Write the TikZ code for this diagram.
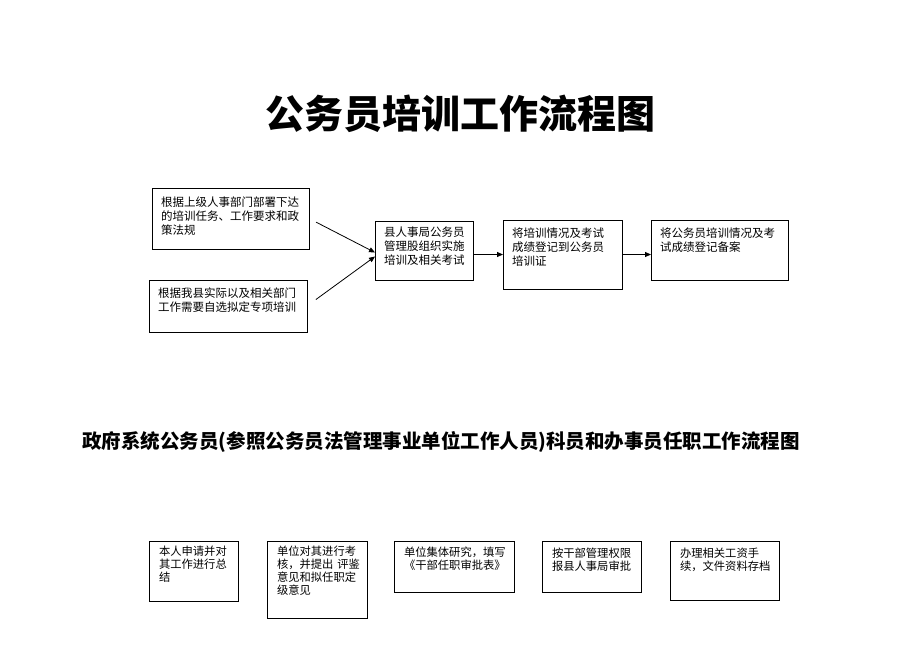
\documentclass[tikz,border=0pt]{standalone}
\usepackage{fontspec}
\setmainfont{Noto Sans CJK SC}
\usetikzlibrary{arrows.meta}
\begin{document}
\begin{tikzpicture}
[x=1pt, y=-1pt,
 flow/.style={rectangle, draw=black, line width=0.8pt, align=left,
   anchor=north west, inner xsep=9pt, inner ysep=0pt, outer sep=0pt,
   font=\fontsize{11.5}{14.2}\selectfont},
 duty/.style={flow, inner xsep=10pt, font=\fontsize{11.3}{13.3}\selectfont},
 heading/.style={inner sep=0pt},
 link/.style={-{Triangle[length=6pt,width=5pt]}, line width=0.8pt}]
\useasboundingbox (0,0) rectangle (920,651);
\node [heading, font=\fontsize{39}{41}\selectfont\bfseries] (title) at (460.5,113.5) {公务员培训工作流程图};
\node [flow, text width=139pt, text height=18pt, text depth=43pt] (rule) at (152,188)
  {根据上级人事部门部署下达\\的培训任务、工作要求和政\\策法规};
\node [flow, text width=140pt, text height=17.5pt, text depth=34.5pt] (local) at (149,280)
  {根据我县实际以及相关部门\\工作需要自选拟定专项培训};
\node [flow, text width=80pt, text height=15pt, text depth=44pt] (train) at (375,221)
  {县人事局公务员\\管理股组织实施\\培训及相关考试};
\node [flow, text width=101pt, text height=17pt, text depth=52pt] (record) at (503,220)
  {将培训情况及考试\\成绩登记到公务员\\培训证};
\node [flow, text width=119pt, text height=17pt, text depth=43pt] (file) at (651,220)
  {将公务员培训情况及考\\试成绩登记备案};
\draw [link, shorten <=8pt] (rule.east) -- ([yshift=-2pt]train.west);
\draw [link, shorten <=11pt] (local.east) -- ([yshift=-6pt]train.west);
\draw [link] (train.east |- record.west) -- (record.west);
\draw [link] (record.east) -- (record.east -| file.west);
\node [heading, font=\fontsize{19.5}{22}\selectfont\bfseries] (subtitle) at (441,442)
  {政府系统公务员(参照公务员法管理事业单位工作人员)科员和办事员任职工作流程图};
\node [duty, text width=69pt, text height=13.5pt, text depth=46pt] (apply) at (149,541.5)
  {本人申请并对\\其工作进行总\\结};
\node [duty, text width=80pt, text height=14pt, text depth=63pt] (assess) at (267,541)
  {单位对其进行考\\核，并提出~评鉴\\意见和拟任职定\\级意见};
\node [duty, text width=100pt, text height=15.5pt, text depth=35.5pt] (study) at (394,541)
  {单位集体研究，填写\\《干部任职审批表》};
\node [duty, text width=79pt, text height=16pt, text depth=35pt] (report) at (542,541)
  {按干部管理权限\\报县人事局审批};
\node [duty, text width=89pt, text height=16pt, text depth=43pt] (archive) at (670,541)
  {办理相关工资手\\续，文件资料存档};
\end{tikzpicture}
\end{document}
